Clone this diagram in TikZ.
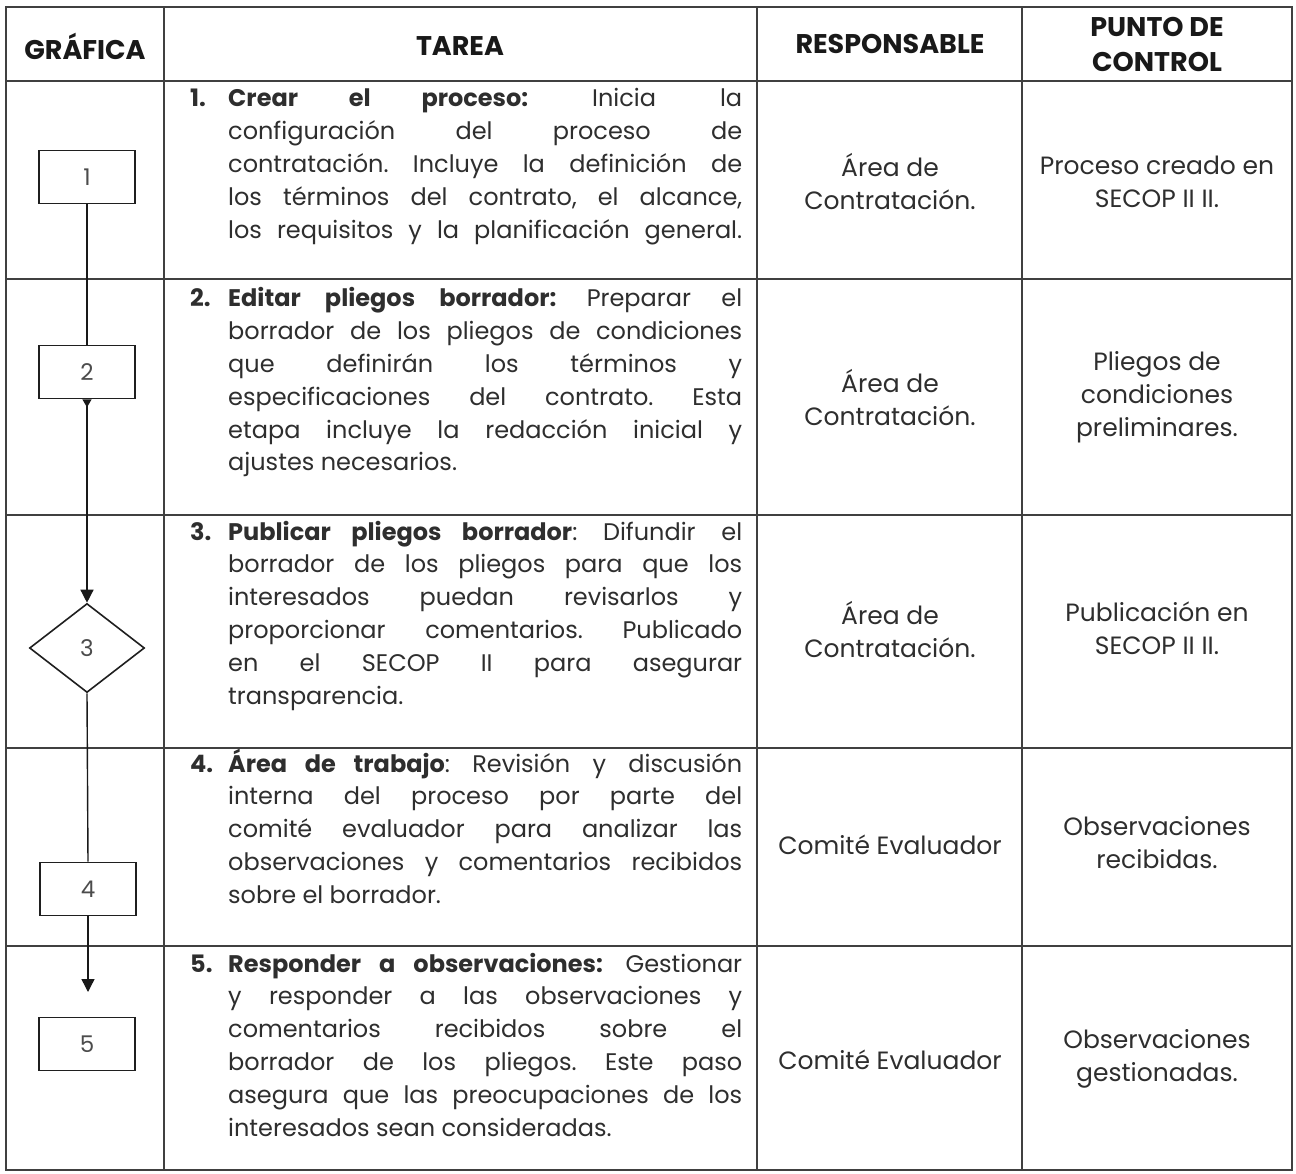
\documentclass[tikz,border=0pt]{standalone}
\usepackage{fontspec}
\setmainfont{Poppins}
\usetikzlibrary{shapes.geometric,arrows.meta}
\frenchspacing
\newcommand{\tfirst}[2]{\makebox[38pt][l]{\bfseries #1}\makebox[514pt][s]{#2}}
\newcommand{\tline}[1]{\hspace*{38pt}\makebox[514pt][s]{#1}}
\newcommand{\tlast}[1]{\hspace*{38pt}#1}
\begin{document}
\begin{tikzpicture}[x=1pt,y=-1pt,
  grid/.style={draw=black!75, line width=1.2pt},
  hdr/.style={font=\fontsize{27}{35}\selectfont\bfseries, align=center, text=black!90, inner sep=0pt},
  cell/.style={font=\fontsize{25}{33}\selectfont\frenchspacing, align=center, text=black!82, inner sep=0pt},
  tarea/.style={font=\fontsize{24}{32.8}\selectfont\frenchspacing, text=black!82, inner sep=0pt, anchor=base west},
  fbox/.style={draw=black!88, line width=1.6pt, minimum width=96pt, minimum height=53pt, inner sep=0pt, font=\fontsize{23}{23}\selectfont, text=black!70},
  fdia/.style={diamond, draw=black!88, line width=1.6pt, minimum width=115pt, minimum height=89pt, inner sep=0pt, font=\fontsize{23}{23}\selectfont, text=black!70},
  flow/.style={draw=black!90, line width=1.4pt},
  bigtip/.style={-{Triangle[length=13pt,width=13pt]}}
]
\useasboundingbox (0,0) rectangle (1296,1174);
\fill[white] (0,0) rectangle (1296,1174);

% table grid
\draw[grid] (6,7) rectangle (1292,1170);
\foreach \yy in {81,279,515,748,946} \draw[grid] (6,\yy) -- (1292,\yy);
\foreach \xx in {164,757,1022} \draw[grid] (\xx,7) -- (\xx,1170);

% headers
\node[hdr] (hg) at (85,46) {GRÁFICA};
\node[hdr] (ht) at (460,46) {TAREA};
\node[hdr] (hr) at (890,44) {RESPONSABLE};
\node[hdr] (hp) at (1157,44) {PUNTO DE\\CONTROL};

% flow shapes
\node[fbox] (b1) at (87,177) {1};
\node[fbox] (b2) at (87,372) {2};
\node[fdia] (d3) at (87,648) {3};
\node[fbox] (b4) at (88,889) {4};
\node[fbox] (b5) at (87,1044) {5};
\coordinate (a5) at (88,992);

\draw[flow] (b1.south) -- (b2.north);
\draw[flow, {Triangle[reversed,length=8pt,width=9pt]}-{Triangle[length=13pt,width=13pt]}] (b2.south) -- (d3.north);
\draw[flow] (d3.south) -- (b4.north);
\draw[flow, bigtip] (b4.south) -- (a5);

% tarea column
\node[tarea] (t1) at (190,107) {\parbox[t]{552pt}{%
\tfirst{1.}{\textbf{Crear el proceso:} Inicia la}\\
\tline{configuración del proceso de}\\
\tline{contratación. Incluye la definición de}\\
\tline{los términos del contrato, el alcance,}\\
\tline{los requisitos y la planificación general.}}};

\node[tarea] (t2) at (190,307) {\parbox[t]{552pt}{%
\tfirst{2.}{\textbf{Editar pliegos borrador:} Preparar el}\\
\tline{borrador de los pliegos de condiciones}\\
\tline{que definirán los términos y}\\
\tline{especificaciones del contrato. Esta}\\
\tline{etapa incluye la redacción inicial y}\\
\tlast{ajustes necesarios.}}};

\node[tarea] (t3) at (190,540) {\parbox[t]{552pt}{%
\tfirst{3.}{\textbf{Publicar pliegos borrador}: Difundir el}\\
\tline{borrador de los pliegos para que los}\\
\tline{interesados puedan revisarlos y}\\
\tline{proporcionar comentarios. Publicado}\\
\tline{en el SECOP II para asegurar}\\
\tlast{transparencia.}}};

\node[tarea] (t4) at (190,772) {\parbox[t]{552pt}{%
\tfirst{4.}{\textbf{Área de trabajo}: Revisión y discusión}\\
\tline{interna del proceso por parte del}\\
\tline{comité evaluador para analizar las}\\
\tline{observaciones y comentarios recibidos}\\
\tlast{sobre el borrador.}}};

\node[tarea] (t5) at (190,972) {\parbox[t]{552pt}{%
\tfirst{5.}{\textbf{Responder a observaciones:} Gestionar}\\
\tline{y responder a las observaciones y}\\
\tline{comentarios recibidos sobre el}\\
\tline{borrador de los pliegos. Este paso}\\
\tline{asegura que las preocupaciones de los}\\
\tlast{interesados sean consideradas.}}};

% responsable column
\node[cell] (r1) at (890,182) {Área de\\Contratación.};
\node[cell] (r2) at (890,398) {Área de\\Contratación.};
\node[cell] (r3) at (890,630) {Área de\\Contratación.};
\node[cell] (r4) at (890,845) {Comité Evaluador};
\node[cell] (r5) at (890,1060) {Comité Evaluador};

% punto de control column
\node[cell] (p1) at (1157,182) {Proceso creado en\\SECOP II II.};
\node[cell] (p2) at (1157,397) {Pliegos de\\condiciones\\preliminares.};
\node[cell] (p3) at (1157,628) {Publicación en\\SECOP II II.};
\node[cell] (p4) at (1157,843) {Observaciones\\recibidas.};
\node[cell] (p5) at (1157,1059) {Observaciones\\gestionadas.};
\end{tikzpicture}
\end{document}
